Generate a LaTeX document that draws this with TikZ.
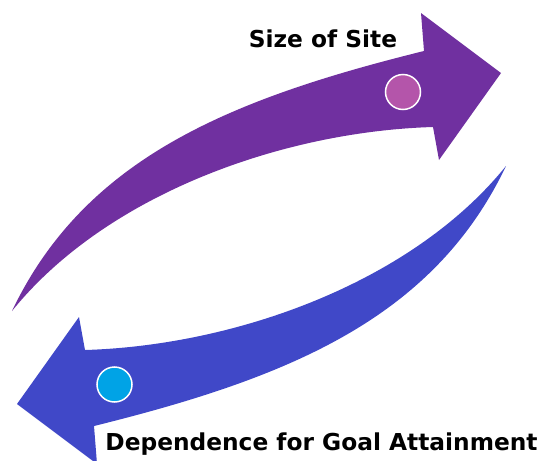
\documentclass[tikz,border=0pt]{standalone}
\usepackage{fontspec}
\setmainfont{DejaVu Sans}
\usetikzlibrary{positioning}
\definecolor{sitepurple}{RGB}{112,48,160}
\definecolor{sitepink}{RGB}{180,85,170}
\definecolor{goalblue}{RGB}{64,72,200}
\definecolor{goalcyan}{RGB}{0,163,230}
\tikzset{
bentarrow/.pic={ % one curved band with its head, drawn in picture coordinates
  \fill[#1] (12,311) .. controls (85,158) and (230,99) .. (424,51)
    -- (421,13) -- (501,73) -- (439,160) -- (433,127)
    .. controls (283,131.5) and (106.5,194) .. (12,311) -- cycle;
},
dot/.style={circle, draw=white, line width=1.5pt, minimum size=35pt, inner sep=0pt}, % marker on each band
caption/.style={font=\bfseries\fontsize{23.3}{28}\selectfont, inner sep=0pt, anchor=base}, % the two labels
}

\begin{document}
\begin{tikzpicture}[x=1pt, y=-1pt]
    \clip (0,0) rectangle (542,461);
    \fill[white] (0,0) rectangle (542,461);

    \pic {bentarrow=sitepurple};
    \pic[rotate around={180:(259,238.5)}] {bentarrow=goalblue};

    \node[dot, fill=sitepink] (sitedot) at (403,92) {};
    \node[dot, fill=goalcyan] (goaldot) at (114.5,384.5) {};

    \node[caption] (sitelabel) at (323,47.7) {Size of Site};
    \node[caption] (goallabel) at (321.5,450.7) {Dependence for Goal Attainment};
\end{tikzpicture}
\end{document}
